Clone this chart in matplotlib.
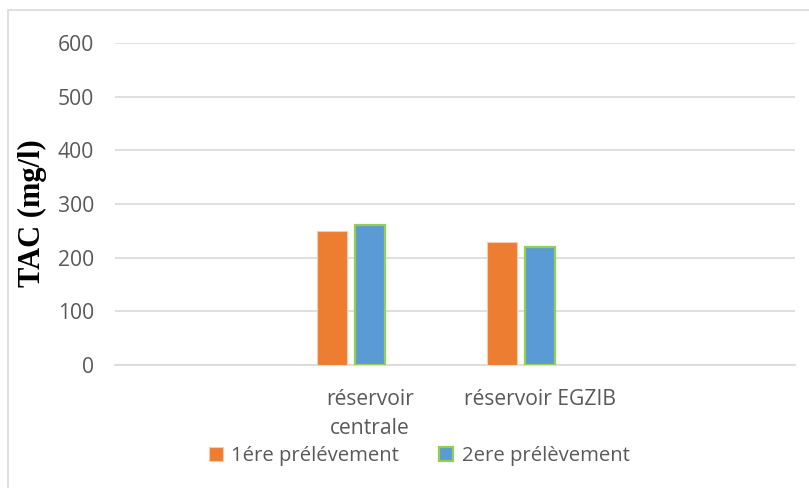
import matplotlib.pyplot as plt
import numpy as np
from matplotlib.patches import Rectangle

# data
categories = ["réservoir\ncentrale", "réservoir EGZIB"]
first_sample = [250, 230]
second_sample = [260, 220]
series_names = ["1ére prélévement", "2ere prélèvement"]
y_ticks = [0, 100, 200, 300, 400, 500, 600]

ORANGE = "#ED7D31"
BLUE = "#5B9BD5"
GREEN_EDGE = "#92D050"
GRID = "#D9D9D9"
TEXT = "#595959"

plt.rcParams["font.family"] = ["Open Sans", "DejaVu Sans"]

fig = plt.figure(figsize=(8.09, 4.88), dpi=100)
ax = fig.add_axes([115 / 809, 1 - 365 / 488, 680 / 809, 322 / 488])

# chart frame around the whole picture (cropped on the right and bottom)
fig.patches.append(
    Rectangle((8 / 809, -0.05), 1.1, 1.05 - 10 / 488, transform=fig.transFigure,
              fill=False, edgecolor=GRID, linewidth=1.2)
)

x = np.arange(1, len(categories) + 1)
width = 30 / 170
step = 38 / 170

ax.bar(x - step, first_sample, width, color=ORANGE, edgecolor="#F8CBAD",
       linewidth=0.8, label=series_names[0], zorder=3)
ax.bar(x, second_sample, width, color=BLUE, edgecolor=GREEN_EDGE,
       linewidth=1.6, label=series_names[1], zorder=3)

ax.set_xlim(-0.5, 3.5)
ax.set_ylim(0, 600)
ax.set_yticks(y_ticks)
ax.set_xticks(x)
ax.set_xticklabels(categories, linespacing=1.55)
ax.tick_params(axis="both", length=0, labelsize=15.2, colors=TEXT)
ax.tick_params(axis="y", pad=15)
ax.tick_params(axis="x", pad=17)

ax.yaxis.grid(True, color=GRID, linewidth=1.2, zorder=0)
for side in ["top", "right", "left"]:
    ax.spines[side].set_visible(False)
ax.spines["bottom"].set_color(GRID)
ax.spines["bottom"].set_linewidth(1.2)

fig.text(32 / 809, 1 - 213 / 488, "TAC (mg/l)", rotation=90, ha="center",
         va="center", fontsize=22, fontweight="bold",
         family=["Liberation Serif", "DejaVu Serif"], color="black")

ax.legend(loc="center", bbox_to_anchor=(419 / 809, 1 - 456 / 488),
          bbox_transform=fig.transFigure, ncol=2, frameon=False,
          fontsize=14.6, labelcolor=TEXT, handlelength=0.7, handleheight=0.7,
          handletextpad=0.4, columnspacing=2.0, borderpad=0)

fig.savefig("out.png", dpi=100)
